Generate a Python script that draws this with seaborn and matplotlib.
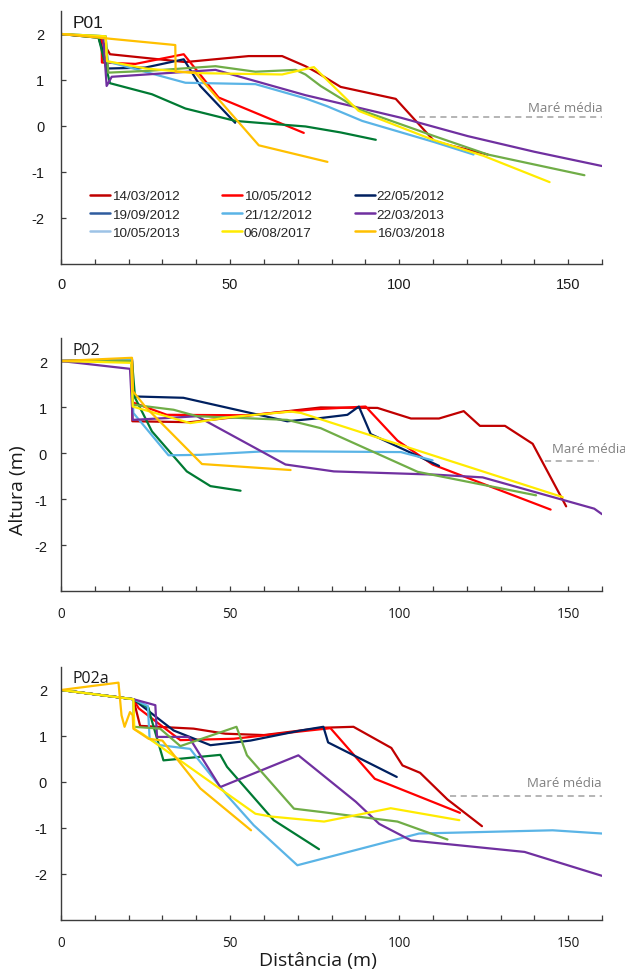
import matplotlib
matplotlib.use("Agg")
import matplotlib.pyplot as plt
from matplotlib.lines import Line2D
from matplotlib.ticker import MultipleLocator
import seaborn as sns
import pandas as pd

# ---------------- data ----------------
DATES = ["14/03/2012", "10/05/2012", "22/05/2012", "19/09/2012", "21/12/2012",
         "22/03/2013", "10/05/2013", "06/08/2017", "16/03/2018"]
LINE_COLORS = ["#C00000", "#FF0000", "#002060", "#007A33", "#5AB4E6",
               "#7030A0", "#70AD47", "#FFEB00", "#FFC000"]
LEGEND_COLORS = ["#C00000", "#FF0000", "#002060", "#2F5C9E", "#5AB4E6",
                 "#7030A0", "#9DC3E6", "#FFEB00", "#FFC000"]

P01_X = {
    "14/03/2012": [0, 11.5, 14.5, 36.8, 55.5, 65.4, 72.3, 75.8, 82.7, 99, 110.4, 115.5, 126.2],
    "10/05/2012": [0, 12, 12.1, 22, 36.3, 46.6, 71.8],
    "22/05/2012": [0, 11.1, 14, 24.9, 36.3, 41.2, 51.5],
    "19/09/2012": [0, 11.1, 14.5, 26.9, 36.8, 51.6, 60, 72.3, 82.7, 93.1],
    "21/12/2012": [0, 13.2, 13.8, 36.8, 57.5, 72.3, 78.7, 89.1, 110.4, 122],
    "22/03/2013": [0, 12.5, 13.5, 15, 45.7, 72.3, 85, 100.5, 120.3, 140, 160],
    "10/05/2013": [0, 13.2, 14, 26, 45.7, 57.5, 69.4, 72.3, 76.8, 88.1, 110.4, 126.2, 154.8],
    "06/08/2017": [0, 13.2, 13.6, 25, 40, 65.4, 74.8, 88, 110, 125, 144.5],
    "16/03/2018": [0, 33.8, 33.9, 39.7, 58.5, 78.8],
}
P01_Y = {
    "14/03/2012": [2.0, 1.93, 1.56, 1.39, 1.52, 1.52, 1.30, 1.16, 0.85, 0.59, -0.33, -0.43, -0.62],
    "10/05/2012": [2.0, 1.93, 1.38, 1.35, 1.56, 0.62, -0.15],
    "22/05/2012": [2.0, 1.92, 1.25, 1.27, 1.45, 0.87, 0.07],
    "19/09/2012": [2.0, 1.92, 0.93, 0.69, 0.38, 0.11, 0.06, -0.01, -0.14, -0.30],
    "21/12/2012": [2.0, 1.95, 1.40, 0.94, 0.91, 0.60, 0.43, 0.11, -0.35, -0.62],
    "22/03/2013": [2.0, 1.93, 0.87, 1.07, 1.22, 0.67, 0.45, 0.18, -0.22, -0.56, -0.87],
    "10/05/2013": [2.0, 1.95, 1.16, 1.20, 1.30, 1.18, 1.22, 1.12, 0.87, 0.36, -0.22, -0.62, -1.07],
    "06/08/2017": [2.0, 1.95, 1.41, 1.25, 1.15, 1.12, 1.28, 0.33, -0.30, -0.65, -1.22],
    "16/03/2018": [2.0, 1.76, 1.18, 1.16, -0.42, -0.78],
}

P02_X = {
    "14/03/2012": [0, 21, 21.1, 38.2, 76.8, 93.6, 103.5, 111.8, 119.1, 123.9, 131.3, 139.5, 149.4],
    "10/05/2012": [0, 20.8, 21.2, 31.3, 55, 75, 90.1, 99.5, 109.9, 144.8],
    "22/05/2012": [0, 21, 21.4, 36.2, 66.9, 76.8, 84.7, 88.1, 91.6, 111.8],
    "19/09/2012": [0, 21, 21.9, 26.9, 37.2, 44.2, 53.1],
    "21/12/2012": [0, 20.8, 21.4, 31.8, 41.2, 61, 100.5, 109.9],
    "22/03/2013": [0, 20.4, 21.2, 31.3, 40.2, 66.4, 80.7, 110.5, 124.7, 157.7, 160],
    "10/05/2013": [0, 20.8, 21.3, 33.3, 40.2, 66.9, 76.8, 105.5, 140.5],
    "06/08/2017": [0, 20.8, 21.2, 24, 38.2, 50, 68, 71, 148.4],
    "16/03/2018": [0, 21, 21.3, 25, 41.7, 67.9],
}
P02_Y = {
    "14/03/2012": [2.0, 2.03, 0.69, 0.67, 0.99, 0.98, 0.75, 0.75, 0.91, 0.59, 0.59, 0.20, -1.16],
    "10/05/2012": [2.0, 2.0, 1.10, 0.83, 0.82, 0.95, 1.01, 0.27, -0.25, -1.23],
    "22/05/2012": [2.0, 2.03, 1.23, 1.20, 0.69, 0.76, 0.83, 1.01, 0.41, -0.28],
    "19/09/2012": [2.0, 2.0, 1.20, 0.47, -0.40, -0.72, -0.82],
    "21/12/2012": [2.0, 2.02, 0.87, -0.05, -0.04, 0.04, 0.02, -0.16],
    "22/03/2013": [2.0, 1.83, 0.72, 0.76, 0.80, -0.25, -0.40, -0.47, -0.53, -1.21, -1.33],
    "10/05/2013": [2.0, 2.0, 1.05, 0.94, 0.80, 0.72, 0.54, -0.41, -0.92],
    "06/08/2017": [2.0, 1.96, 1.01, 0.95, 0.65, 0.78, 0.90, 0.87, -0.96],
    "16/03/2018": [2.0, 2.07, 1.34, 1.00, -0.24, -0.37],
}

P02A_X = {
    "14/03/2012": [0, 21.4, 23.4, 39.2, 48.6, 60, 70.9, 77.6, 86.5, 97.7, 101, 106.2, 114.3, 124.5],
    "10/05/2012": [0, 21.4, 23, 35.3, 51.1, 70.9, 79.7, 92.8, 118],
    "22/05/2012": [0, 21.4, 33.3, 44.2, 56, 70.9, 77.6, 79, 99.3],
    "19/09/2012": [0, 21.4, 25.9, 26.4, 30.3, 47.1, 49.1, 62.9, 76.3],
    "21/12/2012": [0, 21.4, 25.7, 26.2, 29.3, 38.2, 40.5, 49.1, 57, 69.9, 105.9, 145.4, 160],
    "22/03/2013": [0, 21.4, 27.9, 28.4, 37.8, 47.1, 70.2, 87.2, 94.1, 103.5, 137.1, 160],
    "10/05/2013": [0, 21.4, 21.5, 29.3, 35.3, 51.9, 55, 68.9, 76.8, 99.5, 114.3],
    "06/08/2017": [0, 21.4, 21.7, 24, 57.5, 62, 77.8, 97.5, 117.8],
    "16/03/2018": [0, 17, 17.9, 18.8, 20.4, 21.2, 21.4, 25.9, 30, 41.2, 56.2],
}
P02A_Y = {
    "14/03/2012": [2.0, 1.8, 1.22, 1.16, 1.05, 1.02, 1.12, 1.18, 1.20, 0.74, 0.36, 0.20, -0.38, -0.96],
    "10/05/2012": [2.0, 1.8, 1.60, 0.91, 0.94, 1.10, 1.17, 0.07, -0.67],
    "22/05/2012": [2.0, 1.8, 1.12, 0.80, 0.90, 1.12, 1.20, 0.86, 0.11],
    "19/09/2012": [2.0, 1.8, 1.61, 1.45, 0.47, 0.59, 0.33, -0.83, -1.46],
    "21/12/2012": [2.0, 1.8, 1.65, 0.94, 0.80, 0.72, 0.50, -0.29, -0.94, -1.81, -1.12, -1.05, -1.12],
    "22/03/2013": [2.0, 1.8, 1.67, 0.98, 0.98, -0.11, 0.58, -0.43, -0.91, -1.27, -1.52, -2.04],
    "10/05/2013": [2.0, 1.8, 1.20, 1.16, 0.78, 1.20, 0.58, -0.58, -0.65, -0.86, -1.25],
    "06/08/2017": [2.0, 1.8, 1.15, 1.05, -0.69, -0.75, -0.86, -0.57, -0.83],
    "16/03/2018": [2.0, 2.16, 1.45, 1.20, 1.52, 1.45, 1.16, 0.94, 0.90, -0.14, -1.05],
}

PROFILES = ["P01", "P02", "P02a"]
MARE_Y = [0.19, -0.17, -0.30]
MARE_X0 = [105.8, 143, 115]
MARE_X1 = [160, 159, 160]

# ---------------- figure ----------------
sns.set_style("ticks")
plt.rcParams["font.family"] = ["Liberation Sans", "DejaVu Sans"]

fig = plt.figure(figsize=(6.25, 9.70), dpi=100)
W, H = 625, 970
ax_left, ax_right = 61, 602
panel_bottoms = [265, 592, 921]
panel_h = 253

data_sets = [(P01_X, P01_Y), (P02_X, P02_Y), (P02A_X, P02A_Y)]
spine_col = "#3c3c3c"

axes = []
for i, (px, py) in enumerate(data_sets):
    b = panel_bottoms[i]
    ax = fig.add_axes([ax_left / W, 1 - b / H, (ax_right - ax_left) / W, panel_h / H])
    rows = []
    for d in DATES:
        for xv, yv in zip(px[d], py[d]):
            rows.append({"date": d, "x": xv, "y": yv})
    df = pd.DataFrame(rows)
    sns.lineplot(data=df, x="x", y="y", hue="date", hue_order=DATES,
                 palette=LINE_COLORS, sort=False, estimator=None,
                 linewidth=1.6, legend=False, ax=ax)
    ax.set_xlim(0, 160)
    ax.set_ylim(-3, 2.5)
    ax.set_xlabel("")
    ax.set_ylabel("")
    for s in ["top", "right"]:
        ax.spines[s].set_visible(False)
    for s in ["left", "bottom"]:
        ax.spines[s].set_color(spine_col)
        ax.spines[s].set_linewidth(1.0)
    ax.set_yticks([-2, -1, 0, 1, 2])
    ax.set_yticklabels(["-2", "-1", "0", "1", "2"])
    ax.xaxis.set_major_locator(MultipleLocator(50))
    ax.xaxis.set_minor_locator(MultipleLocator(10))
    ax.tick_params(axis="both", which="both", direction="in", length=3.5,
                   width=0.9, color=spine_col, labelcolor="#1a1a1a",
                   bottom=True, left=True, top=False, right=False)
    if i == 0:
        ax.tick_params(axis="x", which="major", pad=9.5, labelsize=10.5)
        ax.tick_params(axis="y", pad=12, labelsize=10.5)
    else:
        ax.tick_params(axis="x", which="major", pad=11, labelsize=9.8)
        ax.tick_params(axis="y", pad=10, labelsize=10.5)
        for lab in ax.get_xticklabels():
            lab.set_family(["Open Sans", "DejaVu Sans"])
    # mean tide reference
    ax.plot([MARE_X0[i], MARE_X1[i]], [MARE_Y[i], MARE_Y[i]], color="#a0a0a0",
            linewidth=1.1, linestyle=(0, (4, 3)))
    axes.append(ax)

# panel labels
axes[0].text(3.3, 2.25, "P01", fontsize=12.5, ha="left", va="center", color="#1a1a1a")
axes[1].text(3.3, 2.24, "P02", fontsize=11.5, ha="left", va="center", color="#1a1a1a",
             family=["Open Sans", "DejaVu Sans"])
axes[2].text(3.3, 2.27, "P02a", fontsize=11.5, ha="left", va="center", color="#1a1a1a",
             family=["Open Sans", "DejaVu Sans"])

# "Maré média" labels
mare_kw = dict(fontsize=9.5, color="#808080", ha="right", va="center",
               family=["Open Sans", "DejaVu Sans"])
axes[0].text(160.3, 0.41, "Maré média", **mare_kw)
t2 = axes[1].text(167.2, 0.09, "Maré média", **mare_kw)
t2.set_clip_on(False)
axes[2].text(159.8, -0.02, "Maré média", **mare_kw)

# legend (as in the reference)
handles = [Line2D([0], [0], color=c, linewidth=1.8) for c in LEGEND_COLORS]
order = [0, 3, 6, 1, 4, 7, 2, 5, 8]
axes[0].legend([handles[k] for k in order], [DATES[k] for k in order],
               ncol=3, frameon=False, fontsize=9.7, handlelength=1.45,
               handletextpad=0.15, columnspacing=3.2, labelspacing=0.42,
               borderpad=0, borderaxespad=0, loc="upper left",
               bbox_to_anchor=(90 / W, 1 - 191 / H), bbox_transform=fig.transFigure)

# axis titles
fig.text(18 / W, 1 - 490 / H, "Altura (m)", rotation=90, ha="center", va="center",
         fontsize=14, color="#1a1a1a", family=["Open Sans", "DejaVu Sans"])
fig.text(318 / W, 1 - 961 / H, "Distância (m)", ha="center", va="center",
         fontsize=14, color="#1a1a1a", family=["Open Sans", "DejaVu Sans"])

fig.savefig("out.png", dpi=100)
